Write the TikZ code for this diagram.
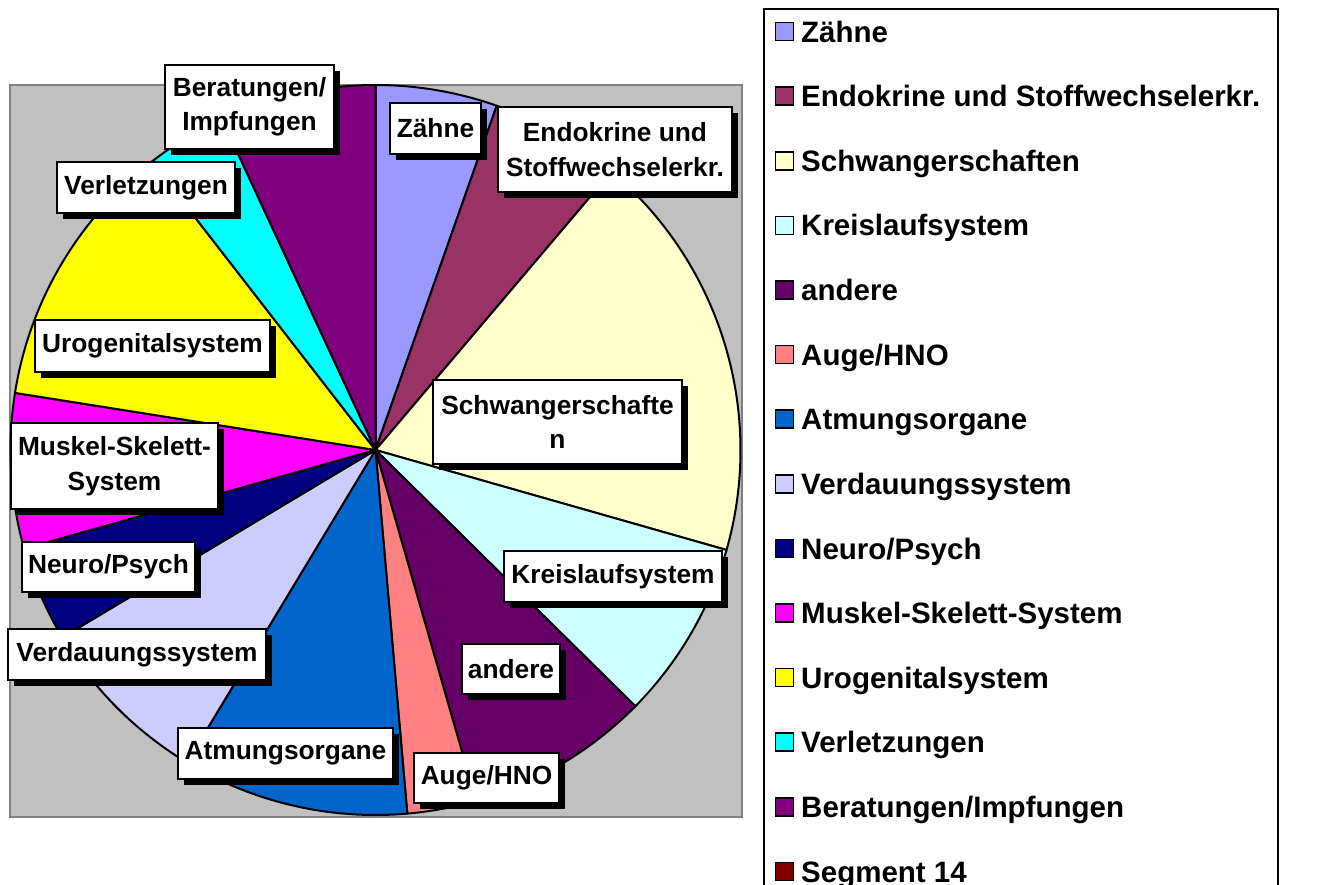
\documentclass[tikz,border=0pt]{standalone}
\usepackage{fontspec}
\setmainfont{Liberation Sans}
\usetikzlibrary{shadows}
\definecolor{cZaehne}{HTML}{9999FF}
\definecolor{cEndo}{HTML}{993366}
\definecolor{cSchw}{HTML}{FFFFCC}
\definecolor{cKreis}{HTML}{CCFFFF}
\definecolor{cAndere}{HTML}{660066}
\definecolor{cAuge}{HTML}{FF8080}
\definecolor{cAtm}{HTML}{0066CC}
\definecolor{cVerd}{HTML}{CCCCFF}
\definecolor{cNeuro}{HTML}{000080}
\definecolor{cMusk}{HTML}{FF00FF}
\definecolor{cUro}{HTML}{FFFF00}
\definecolor{cVerl}{HTML}{00FFFF}
\definecolor{cBer}{HTML}{800080}
\definecolor{cSeg}{HTML}{800000}
\definecolor{plotgray}{HTML}{C0C0C0}
\definecolor{bordergray}{HTML}{808080}
\tikzset{
  lbl/.style={draw=black, line width=1.6pt, fill=white, inner sep=0pt, align=center,
    font=\fontsize{26.3}{34.5}\selectfont\bfseries,
    drop shadow={shadow xshift=6pt, shadow yshift=-6pt, fill=black, opacity=1}},
  slice/.style={draw=black, line width=2pt, line join=round},
  legsq/.style={draw=black, line width=1.5pt, minimum size=18pt, inner sep=0pt},
  legtxt/.style={anchor=base west, inner sep=0pt, font=\fontsize{29.5}{35}\selectfont\bfseries},
}
\newcommand\myslice[3]{%
  \filldraw[slice, fill=#3] (c) -- ++({#1-90}:365) arc[start angle={#1-90}, end angle={#2-90}, radius=365] -- cycle;}
\begin{document}
\begin{tikzpicture}[x=1pt,y=-1pt]
\clip (0,0) rectangle (1333,885);
\fill[white] (0,0) rectangle (1333,885);
% plot area
\draw[fill=plotgray, draw=bordergray, line width=2pt] (10,85) rectangle (742,817);
\coordinate (c) at (375.5,450);
% slices (angles clockwise from top)
\myslice{0}{19.4}{cZaehne}
\myslice{19.4}{40.3}{cEndo}
\myslice{40.3}{105.9}{cSchw}
\myslice{105.9}{134.6}{cKreis}
\myslice{134.6}{164}{cAndere}
\myslice{164}{175}{cAuge}
\myslice{175}{211.1}{cAtm}
\myslice{211.1}{239.1}{cVerd}
\myslice{239.1}{254.3}{cNeuro}
\myslice{254.3}{279}{cMusk}
\myslice{279}{322.2}{cUro}
\myslice{322.2}{335.1}{cVerl}
\myslice{335.1}{360}{cBer}
% data labels
\node[lbl, minimum width=169pt, minimum height=84pt] (lBer) at (249.5,107) {Beratungen/\\Impfungen};
\node[lbl, minimum width=178pt, minimum height=51pt] (lVerl) at (146,187.5) {Verletzungen};
\node[lbl, minimum width=235pt, minimum height=52pt] (lUro) at (152.5,346) {Urogenitalsystem};
\node[lbl, minimum width=207pt, minimum height=86pt] (lMusk) at (114.5,466) {Muskel-Skelett-\\System};
\node[lbl, minimum width=173pt, minimum height=50pt] (lNeuro) at (108.5,567) {Neuro/Psych};
\node[lbl, minimum width=258pt, minimum height=51pt] (lVerd) at (137,654.5) {Verdauungssystem};
\node[lbl, minimum width=215pt, minimum height=51pt] (lAtm) at (285.5,753.5) {Atmungsorgane};
\node[lbl, minimum width=145pt, minimum height=50pt] (lAuge) at (486.5,778) {Auge/HNO};
\node[lbl, minimum width=98pt, minimum height=50pt] (lAndere) at (511,669) {andere};
\node[lbl, minimum width=218pt, minimum height=51pt] (lKreis) at (613,576.5) {Kreislaufsystem};
\node[lbl, minimum width=249pt, minimum height=84pt] (lSchw) at (557.5,422) {Schwangerschafte\\n};
\node[lbl, minimum width=91pt, minimum height=51pt] (lZaehne) at (435.5,128.5) {Zähne};
\node[lbl, minimum width=234pt, minimum height=85pt] (lEndo) at (615,149.5) {Endokrine und\\Stoffwechselerkr.};
% legend
\draw[line width=2pt, fill=white] (764,9.5) rectangle (1277.5,900);
\node[legsq, fill=cZaehne] (q0) at (784.7,31.6) {};
\node[legtxt] (t0) at (801,42.2) {Zähne};
\node[legsq, fill=cEndo] (q1) at (784.7,96.2) {};
\node[legtxt] (t1) at (801,106.8) {Endokrine und Stoffwechselerkr.};
\node[legsq, fill=cSchw] (q2) at (784.7,160.8) {};
\node[legtxt] (t2) at (801,171.4) {Schwangerschaften};
\node[legsq, fill=cKreis] (q3) at (784.7,225.4) {};
\node[legtxt] (t3) at (801,236.0) {Kreislaufsystem};
\node[legsq, fill=cAndere] (q4) at (784.7,290.0) {};
\node[legtxt] (t4) at (801,300.6) {andere};
\node[legsq, fill=cAuge] (q5) at (784.7,354.6) {};
\node[legtxt] (t5) at (801,365.2) {Auge/HNO};
\node[legsq, fill=cAtm] (q6) at (784.7,419.2) {};
\node[legtxt] (t6) at (801,429.8) {Atmungsorgane};
\node[legsq, fill=cVerd] (q7) at (784.7,483.8) {};
\node[legtxt] (t7) at (801,494.4) {Verdauungssystem};
\node[legsq, fill=cNeuro] (q8) at (784.7,548.4) {};
\node[legtxt] (t8) at (801,559.0) {Neuro/Psych};
\node[legsq, fill=cMusk] (q9) at (784.7,613.0) {};
\node[legtxt] (t9) at (801,623.6) {Muskel-Skelett-System};
\node[legsq, fill=cUro] (q10) at (784.7,677.6) {};
\node[legtxt] (t10) at (801,688.2) {Urogenitalsystem};
\node[legsq, fill=cVerl] (q11) at (784.7,742.2) {};
\node[legtxt] (t11) at (801,752.8) {Verletzungen};
\node[legsq, fill=cBer] (q12) at (784.7,806.8) {};
\node[legtxt] (t12) at (801,817.4) {Beratungen/Impfungen};
\node[legsq, fill=cSeg] (q13) at (784.7,871.4) {};
\node[legtxt] (t13) at (801,882.0) {Segment 14};
\end{tikzpicture}
\end{document}
